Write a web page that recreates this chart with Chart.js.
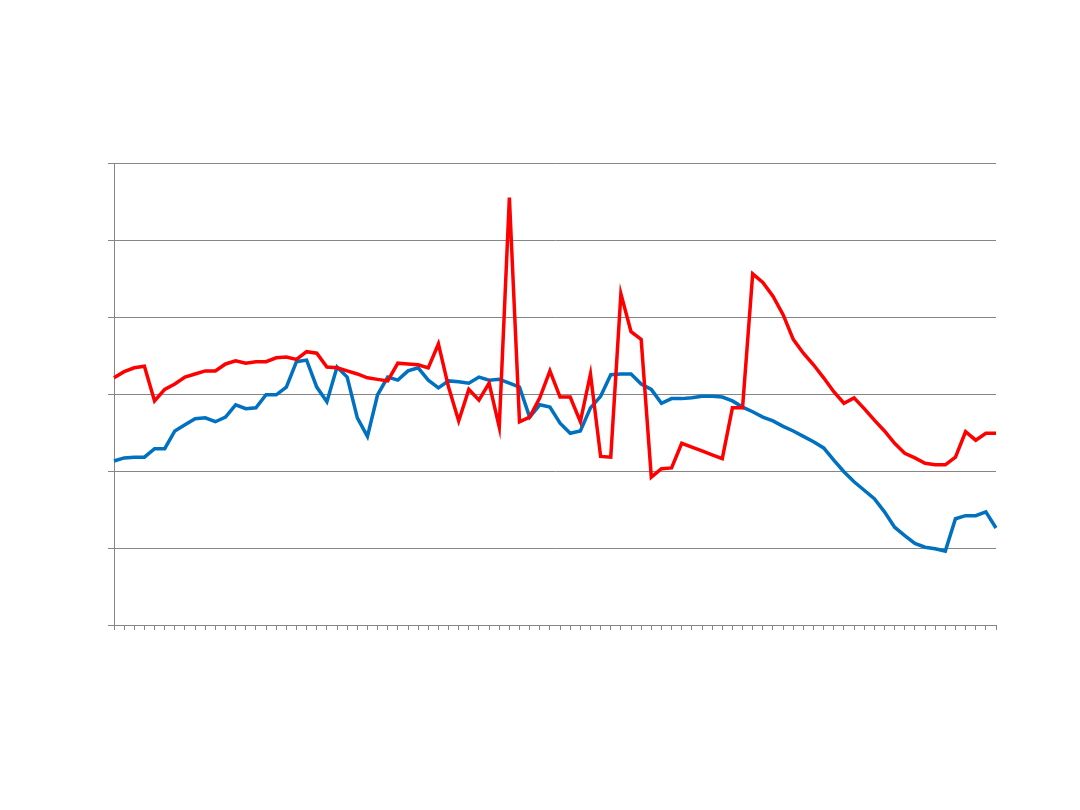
<!DOCTYPE html>
<html>
<head>
<meta charset="utf-8">
<script src="https://cdn.jsdelivr.net/npm/chart.js@4.4.0/dist/chart.umd.min.js"></script>
<style>
  body { margin: 0; background: #ffffff; }
  #grafico { display: block; }
</style>
</head>
<body>
<canvas id="grafico" width="1080" height="810"></canvas>
<script>
// series values (axis 0..60, no labels shown)
const serieVermelha = [
  32.1, 32.9, 33.4, 33.6, 29.1, 30.6, 31.3, 32.2, 32.6, 33.0,
  33.0, 33.9, 34.3, 34.0, 34.2, 34.2, 34.7, 34.8, 34.5, 35.5,
  35.3, 33.5, 33.4, 33.0, 32.6, 32.1, 31.9, 31.7, 34.0, 33.9,
  33.8, 33.4, 36.5, 30.9, 26.5, 30.6, 29.2, 31.4, 25.7, 55.5,
  26.4, 27.0, 29.5, 33.0, 29.6, 29.6, 26.4, 32.6, 21.9, 21.8,
  43.0, 38.1, 37.1, 19.2, 20.3, 20.4, 23.6, 23.1, 22.6, 22.1,
  21.6, 28.2, 28.2, 45.6, 44.5, 42.7, 40.3, 37.1, 35.3, 33.8,
  32.1, 30.3, 28.8, 29.5, 28.1, 26.6, 25.2, 23.6, 22.3, 21.7,
  21.0, 20.8, 20.8, 21.8, 25.1, 24.0, 24.9, 24.9
];

const serieAzul = [
  21.3, 21.7, 21.8, 21.8, 22.9, 22.9, 25.2, 26.0, 26.8, 26.9,
  26.4, 27.0, 28.6, 28.1, 28.2, 29.9, 29.9, 30.9, 34.2, 34.4,
  30.9, 29.0, 33.5, 32.2, 26.9, 24.5, 29.9, 32.2, 31.8, 33.0,
  33.4, 31.8, 30.8, 31.7, 31.6, 31.4, 32.2, 31.8, 31.9, 31.4,
  30.9, 27.0, 28.6, 28.3, 26.2, 24.9, 25.2, 28.2, 29.7, 32.5,
  32.6, 32.6, 31.3, 30.6, 28.8, 29.4, 29.4, 29.5, 29.7, 29.7,
  29.6, 29.1, 28.3, 27.7, 27.0, 26.5, 25.8, 25.2, 24.5, 23.8,
  23.0, 21.4, 19.9, 18.6, 17.5, 16.4, 14.7, 12.7, 11.6, 10.6,
  10.1, 9.9, 9.6, 13.8, 14.2, 14.2, 14.7, 12.6
];

// one category per point, the axis shows no text
const categorias = serieVermelha.map((_, i) => String(i + 1));

const corGrade = '#868686';

const grafico = document.getElementById('grafico');

new Chart(grafico, {
  type: 'line',
  data: {
    labels: categorias,
    datasets: [
      {
        label: 'Vermelho',
        data: serieVermelha,
        borderColor: '#ff0000',
        borderWidth: 3.5,
        pointRadius: 0,
        tension: 0,
        fill: false
      },
      {
        label: 'Azul',
        data: serieAzul,
        borderColor: '#0070c0',
        borderWidth: 3.5,
        pointRadius: 0,
        tension: 0,
        fill: false
      }
    ]
  },
  options: {
    responsive: false,
    animation: false,
    devicePixelRatio: 1,
    layout: {
      padding: { left: 108, right: 84, top: 163, bottom: 180 }
    },
    plugins: {
      legend: { display: false },
      tooltip: { enabled: false }
    },
    scales: {
      x: {
        offset: false,
        grid: {
          display: true,
          drawOnChartArea: false,
          drawTicks: true,
          tickLength: 5,
          color: corGrade
        },
        border: { display: true, color: corGrade, width: 1 },
        ticks: { display: false, autoSkip: false }
      },
      y: {
        min: 0,
        max: 60,
        grid: {
          color: corGrade,
          drawTicks: true,
          tickLength: 6
        },
        border: { display: true, color: corGrade, width: 1 },
        ticks: { display: false, stepSize: 10 }
      }
    }
  }
});
</script>
</body>
</html>
